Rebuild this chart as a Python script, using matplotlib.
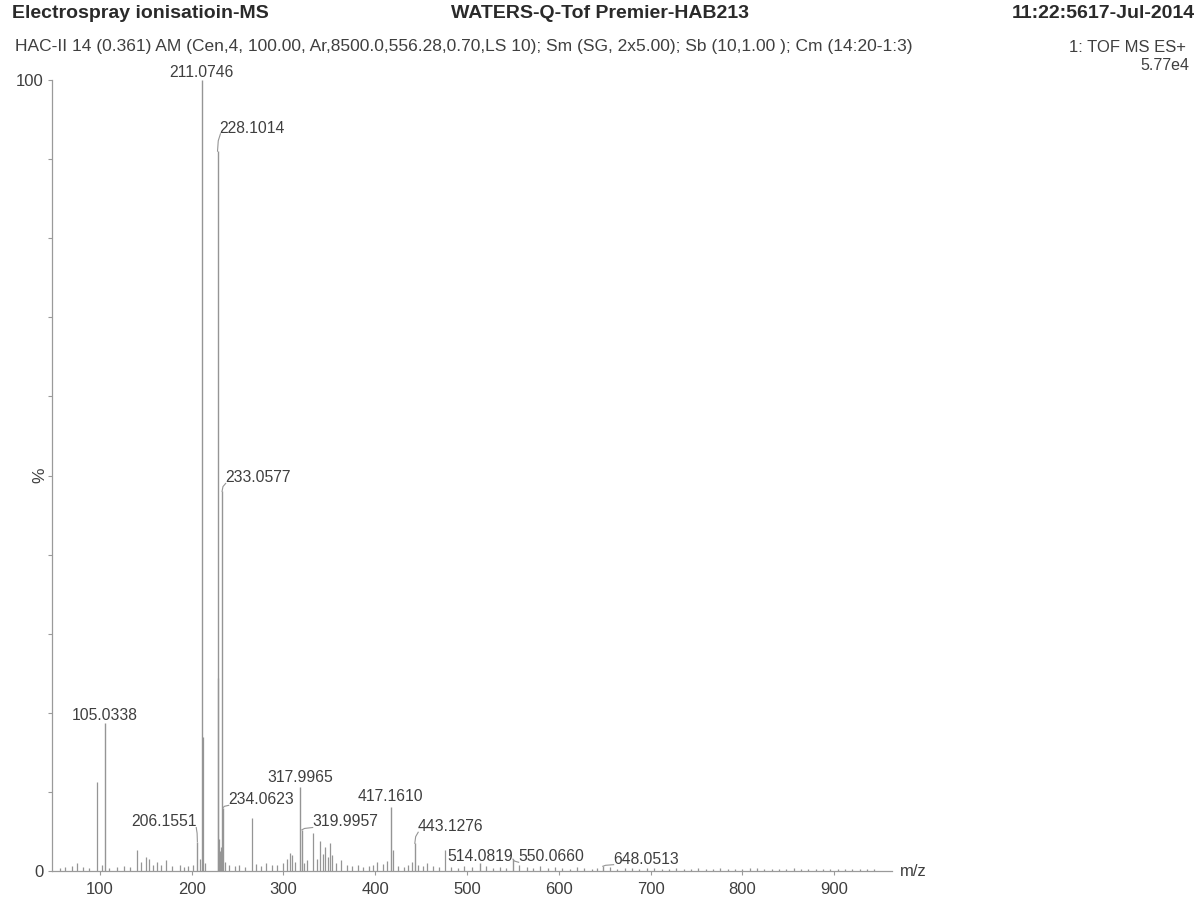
import matplotlib
matplotlib.use("Agg")
import matplotlib.pyplot as plt

plt.rcParams['font.family'] = ['Liberation Sans', 'DejaVu Sans']

# Labelled peaks (m/z, relative intensity %)
label_mz = [105.0338, 206.1551, 211.0746, 228.1014, 233.0577, 234.0623,
            317.9965, 319.9957, 417.1610, 443.1276, 514.0819, 550.0660, 648.0513]
label_int = [18.7, 3.7, 100.0, 91.0, 48.0, 8.0,
             10.6, 5.2, 8.1, 3.5, 1.0, 1.5, 0.6]
# Label anchor positions (m/z, % at text centre) and horizontal alignment
label_x = [105.5, 205.7, 211.0, 230.5, 236.2, 239.5,
           318.0, 331.0, 417.0, 446.0, 514.0, 555.5, 659.0]
label_y = [19.7, 6.2, 101.0, 93.9, 49.7, 9.0,
           11.8, 6.2, 9.4, 5.6, 1.8, 1.8, 1.5]
label_ha = ['center', 'right', 'center', 'left', 'left', 'left',
            'center', 'left', 'center', 'left', 'center', 'left', 'left']
label_leader = [False, True, False, True, True, True,
                False, True, False, True, False, True, True]

# Unlabelled peaks (m/z, relative intensity %)
minor_mz = [56, 62, 69, 75, 81, 88, 97.0, 102, 110, 118, 126, 133, 140, 145, 150, 153,
            158, 162, 167, 172, 178, 187, 192, 196, 201, 209.1, 212.08, 214,
            229.1, 230.1, 231.1, 232.1, 236, 241, 247, 252, 258, 265.7, 270, 276,
            281, 287, 293, 299, 304, 307, 309.5, 313, 322, 326, 332.0, 336, 340.0,
            343, 345.5, 348, 350.5, 353, 357, 363, 369, 375, 381, 387, 393, 398,
            402, 408, 413, 419.2, 425, 431, 436, 440, 447, 452, 456, 463, 470,
            476.0, 483, 490, 497, 505, 521, 528, 536, 543, 557, 565, 572, 580,
            588, 596, 604, 612, 620, 628, 636, 642, 656, 664, 672, 680, 688, 696,
            704, 712, 720, 728, 736, 744, 752, 760, 768, 776, 784, 792, 800, 808,
            816, 824, 832, 840, 848, 856, 864, 872, 880, 888, 896, 904, 912, 920,
            928, 936, 944]
minor_int = [0.4, 0.5, 0.6, 1.0, 0.5, 0.4, 11.2, 0.8, 0.4, 0.5, 0.6, 0.5, 2.6, 1.2, 1.8, 1.5,
             0.7, 1.2, 0.8, 1.4, 0.6, 0.7, 0.5, 0.6, 0.8, 1.5, 17.0, 1.0,
             24.4, 4.0, 2.5, 3.0, 1.2, 0.8, 0.6, 0.7, 0.5, 6.7, 0.9, 0.6,
             1.0, 0.7, 0.8, 1.0, 1.5, 2.3, 2.0, 1.2, 1.0, 1.4, 4.8, 1.5, 3.8,
             2.2, 3.0, 1.8, 3.5, 2.0, 1.0, 1.4, 0.8, 0.6, 0.8, 0.5, 0.6, 0.7,
             1.2, 0.9, 1.3, 2.6, 0.6, 0.5, 0.7, 1.2, 0.8, 0.6, 1.0, 0.6, 0.5,
             2.7, 0.5, 0.4, 0.6, 0.5, 0.6, 0.4, 0.5, 0.4, 0.8, 0.5, 0.4, 0.6,
             0.4, 0.5, 0.4, 0.3, 0.5, 0.4, 0.3, 0.4, 0.5, 0.3, 0.4, 0.4, 0.3, 0.4,
             0.4, 0.3, 0.3, 0.4, 0.3, 0.3, 0.4, 0.3, 0.3, 0.4, 0.3, 0.3, 0.3, 0.4,
             0.4, 0.3, 0.3, 0.3, 0.3, 0.4, 0.3, 0.3, 0.3, 0.3, 0.3, 0.3, 0.3, 0.3,
             0.3, 0.3, 0.3]

x_ticks = [100, 200, 300, 400, 500, 600, 700, 800, 900]
y_ticks = list(range(0, 101, 10))

W, H = 1201, 900
fig = plt.figure(figsize=(W / 100, H / 100), dpi=100)
fig.patch.set_facecolor('white')

def fx(px):
    return px / W

def fy(py):
    return 1 - py / H

ax = fig.add_axes([fx(52), fy(871), fx(892) - fx(52), fy(80) - fy(871)])
ax.set_xlim(47.7, 963.2)
ax.set_ylim(0, 100)

line_col = '#959595'
text_col = '#3f3f3f'

ax.vlines(minor_mz, 0, minor_int, color=line_col, lw=0.9)
ax.vlines(label_mz, 0, label_int, color=line_col, lw=1.0)

for mz, it, tx, ty, ha, lead in zip(label_mz, label_int, label_x, label_y,
                                    label_ha, label_leader):
    lab = f'{mz:.4f}'
    if lead:
        # short leader from the peak top towards the displaced label
        ex = tx + (0.8 if ha == 'left' else -0.8)
        ey = ty - 0.7
        ax.plot([mz, mz + 0.25 * (ex - mz), ex],
                [it, it + 0.6 * (ey - it), ey],
                color=line_col, lw=0.8, clip_on=False)
    ax.text(tx, ty, lab, ha=ha, va='center', fontsize=11.3, color=text_col,
            clip_on=False)

for s in ['top', 'right']:
    ax.spines[s].set_visible(False)
for s in ['left', 'bottom']:
    ax.spines[s].set_color('#9a9a9a')
    ax.spines[s].set_linewidth(0.9)

ax.set_xticks(x_ticks)
ax.set_xticklabels([str(t) for t in x_ticks])
ax.set_yticks(y_ticks)
ax.set_yticklabels(['0'] + [''] * 9 + ['100'])
ax.tick_params(axis='both', colors='#9a9a9a', labelcolor=text_col,
               labelsize=12, length=3, width=0.8)
ax.tick_params(axis='x', pad=5)
ax.tick_params(axis='y', pad=3)

fig.text(fx(40), fy(475), '%', rotation=90, ha='center', va='center',
         fontsize=12.5, color=text_col)
fig.text(fx(900), fy(872), 'm/z', ha='left', va='center', fontsize=12,
         color=text_col)

# Instrument header
fig.text(fx(12), fy(13), 'Electrospray ionisatioin-MS', ha='left', va='center',
         fontsize=14, fontweight='bold', color='#2a2a2a')
fig.text(fx(600), fy(13), 'WATERS-Q-Tof Premier-HAB213', ha='center',
         va='center', fontsize=14, fontweight='bold', color='#2a2a2a')
fig.text(fx(1195), fy(13), '11:22:5617-Jul-2014', ha='right', va='center',
         fontsize=14, fontweight='bold', color='#2a2a2a')
fig.text(fx(15), fy(47),
         'HAC-II 14 (0.361) AM (Cen,4, 100.00, Ar,8500.0,556.28,0.70,LS 10); '
         'Sm (SG, 2x5.00); Sb (10,1.00 ); Cm (14:20-1:3)',
         ha='left', va='center', fontsize=12.5, color=text_col)
fig.text(fx(1186), fy(47), '1: TOF MS ES+', ha='right', va='center',
         fontsize=12, color=text_col)
fig.text(fx(1189), fy(66), '5.77e4', ha='right', va='center',
         fontsize=11.5, color=text_col)

fig.savefig('out.png', dpi=100, facecolor='white')
